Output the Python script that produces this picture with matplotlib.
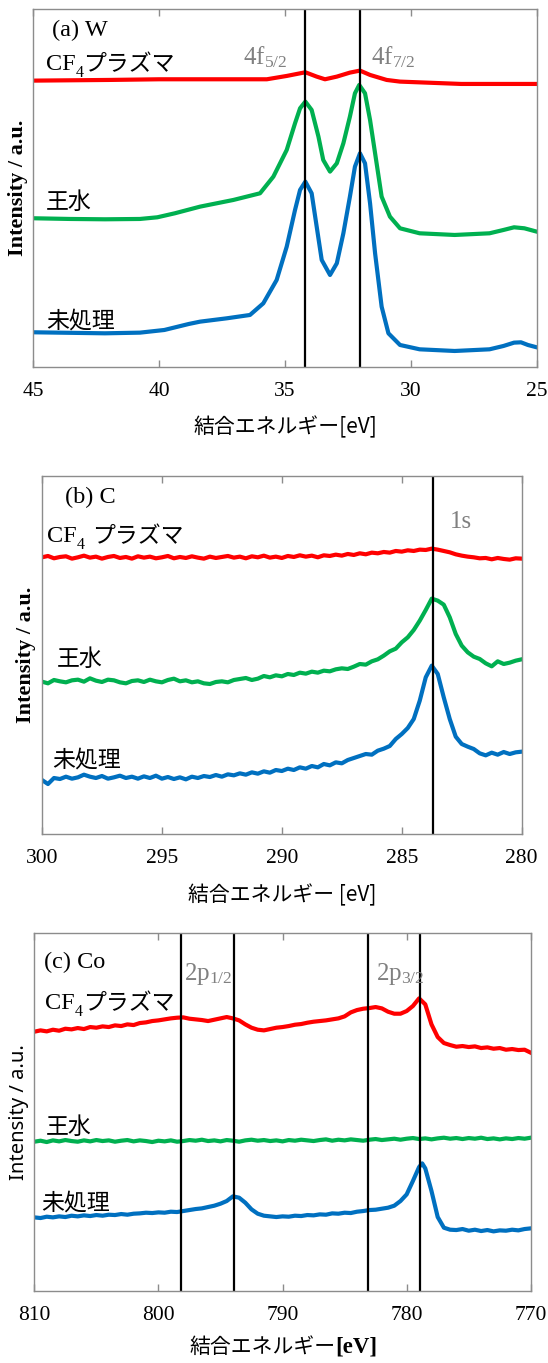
import matplotlib
matplotlib.use("Agg")
import matplotlib.pyplot as plt

plt.rcParams['font.family'] = ['Liberation Serif', 'Noto Sans CJK JP']
plt.rcParams['mathtext.fontset'] = 'custom'
plt.rcParams['mathtext.rm'] = 'Liberation Serif'
plt.rcParams['mathtext.it'] = 'Liberation Serif:italic'

SERIF = 'Liberation Serif'
JP = 'Noto Sans CJK JP'
SANS = 'Noto Sans'

RED = '#FF0000'
GREEN = '#00B050'
BLUE = '#0070C0'
GRAY = '#8C8C8C'
LABELGRAY = '#808080'

# ---------------- (a) W 4f ----------------
w_red_x = [44.93, 42.0, 40.0, 38.37, 35.72, 34.93, 34.19, 33.74, 33.41, 32.94, 32.42, 32.02, 31.62,
           30.96, 30.43, 28.0, 25.0]
w_red_y = [858, 860, 862, 862, 862, 872, 883, 870, 862, 870, 882, 888, 875,
           860, 855, 848, 848]

w_green_x = [44.93, 43.54, 42.15, 40.76, 40.07, 39.375, 38.37, 37.05, 35.99, 35.46, 34.93, 34.60,
             34.40, 34.19, 33.94, 33.67, 33.48, 33.21, 32.94, 32.68, 32.42, 32.22, 32.05, 31.82,
             31.62, 31.42, 31.16, 30.83, 30.43, 29.65, 28.26, 26.875, 26.32, 25.90, 25.49, 25.0]
w_green_y = [445, 443, 442, 443, 448, 460, 480, 500, 520, 570, 650, 730,
             775, 795, 770, 690, 620, 585, 610, 670, 750, 820, 845, 820,
             740, 640, 510, 450, 415, 400, 395, 400, 410, 418, 415, 405]

w_blue_x = [44.93, 42.15, 40.76, 39.79, 38.82, 38.37, 37.31, 36.39, 35.86, 35.33, 34.93, 34.60,
            34.40, 34.19, 33.94, 33.74, 33.54, 33.21, 32.94, 32.68, 32.42, 32.22, 32.02, 31.82,
            31.62, 31.42, 31.16, 30.89, 30.43, 29.65, 28.26, 26.875, 26.32, 25.90, 25.625, 25.35, 25.0]
w_blue_y = [103, 100, 102, 110, 128, 135, 145, 155, 190, 260, 360, 470,
            530, 555, 520, 420, 320, 275, 310, 400, 510, 600, 640, 610,
            490, 340, 180, 100, 65, 52, 47, 52, 62, 72, 73, 65, 58]

w_lines = [34.19, 32.01]
w_ticks = [45, 40, 35, 30, 25]

# ---------------- (b) C 1s ----------------
c_x = [300.00, 299.75, 299.50, 299.25, 299.00, 298.75, 298.50, 298.25, 298.00, 297.75, 297.50, 297.25,
       297.00, 296.75, 296.50, 296.25, 296.00, 295.75, 295.50, 295.25, 295.00, 294.75, 294.50, 294.25,
       294.00, 293.75, 293.50, 293.25, 293.00, 292.75, 292.50, 292.25, 292.00, 291.75, 291.50, 291.25,
       291.00, 290.75, 290.50, 290.25, 290.00, 289.75, 289.50, 289.25, 289.00, 288.75, 288.50, 288.25,
       288.00, 287.75, 287.50, 287.25, 287.00, 286.75, 286.50, 286.25, 286.00, 285.75, 285.50, 285.25,
       285.00, 284.75, 284.50, 284.25, 284.00, 283.75, 283.50, 283.25, 283.00, 282.75, 282.50, 282.25,
       282.00, 281.75, 281.50, 281.25, 281.00, 280.75, 280.50, 280.25, 280.00]
c_red_y = [830, 834, 827, 831, 833, 826, 830, 835, 829, 832, 826, 831,
           834, 828, 831, 826, 833, 829, 832, 827, 830, 834, 827, 831,
           828, 833, 829, 826, 832, 828, 831, 834, 829, 832, 827, 833,
           830, 835, 829, 832, 828, 834, 831, 836, 832, 835, 830, 836,
           834, 838, 835, 840, 837, 842, 839, 844, 842, 846, 844, 849,
           847, 851, 849, 853, 852, 856, 853, 849, 845, 839, 835, 832,
           830, 827, 828, 824, 828, 825, 823, 827, 826]
c_green_y = [457, 452, 462, 458, 455, 461, 463, 457, 467, 460, 456, 463,
             461, 455, 452, 459, 461, 456, 463, 458, 455, 462, 466, 458,
             461, 455, 458, 452, 450, 456, 458, 455, 462, 465, 468, 462,
             466, 474, 470, 476, 473, 480, 477, 484, 481, 487, 484, 490,
             488, 494, 497, 495, 502, 510, 508, 518, 524, 535, 548, 556,
             575, 590, 612, 640, 672, 706, 700, 688, 650, 600, 565, 545,
             532, 525, 512, 503, 518, 510, 514, 520, 524]
c_blue_y = [162, 150, 168, 165, 172, 166, 170, 178, 172, 168, 174, 166,
            170, 175, 168, 172, 166, 173, 168, 175, 166, 171, 165, 170,
            164, 172, 168, 174, 171, 177, 172, 179, 176, 182, 178, 185,
            181, 188, 184, 192, 189, 196, 192, 200, 196, 204, 200, 210,
            206, 215, 212, 222, 228, 234, 240, 238, 250, 256, 264, 285,
            300, 318, 345, 400, 470, 505, 480, 410, 345, 292, 270, 262,
            255, 242, 236, 244, 238, 246, 240, 245, 247]

c_lines = [283.7]
c_ticks = [300, 295, 290, 285, 280]

# ---------------- (c) Co 2p ----------------
co_x = [810.0, 809.5, 809.0, 808.5, 808.0, 807.5, 807.0, 806.5, 806.0, 805.5, 805.0, 804.5, 804.0,
        803.5, 803.0, 802.5, 802.0, 801.5, 801.0, 800.5, 800.0, 799.5, 799.0, 798.5, 798.0, 797.5,
        797.0, 796.5, 796.0, 795.5, 795.0, 794.5, 794.0, 793.5, 793.0, 792.5, 792.0, 791.5, 791.0,
        790.5, 790.0, 789.5, 789.0, 788.5, 788.0, 787.5, 787.0, 786.5, 786.0, 785.5, 785.0, 784.5,
        784.0, 783.5, 783.0, 782.5, 782.0, 781.5, 781.0, 780.5, 780.0, 779.5, 779.0, 778.5, 778.0,
        777.5, 777.0, 776.5, 776.0, 775.5, 775.0, 774.5, 774.0, 773.5, 773.0, 772.5, 772.0, 771.5,
        771.0, 770.5, 770.0]
co_red_y = [778, 782, 779, 784, 781, 787, 785, 789, 786, 792, 790, 794, 792,
            797, 795, 800, 798, 804, 806, 810, 812, 815, 818, 820, 821, 817,
            815, 813, 810, 814, 818, 822, 818, 812, 800, 790, 784, 782, 786,
            790, 792, 795, 799, 801, 805, 808, 810, 812, 815, 818, 824, 836,
            843, 847, 849, 852, 848, 838, 832, 832, 840, 855, 878, 860, 800,
            762, 744, 738, 733, 735, 732, 734, 729, 731, 727, 729, 724, 726,
            723, 724, 715]
co_green_y = [448, 451, 447, 452, 449, 453, 450, 448, 452, 449, 453, 450, 452,
              448, 451, 453, 449, 452, 450, 447, 451, 449, 452, 448, 450, 453,
              451, 454, 450, 452, 449, 453, 451, 448, 452, 454, 451, 453, 450,
              452, 449, 453, 451, 454, 452, 450, 453, 455, 451, 454, 452, 455,
              453, 451, 454, 456, 453, 455, 457, 454, 457, 459, 456, 458, 455,
              458, 460, 457, 459, 456, 459, 457, 460, 456, 458, 455, 458, 456,
              459, 457, 460]

co_blue_x = [810.0, 809.5, 809.0, 808.5, 808.0, 807.5, 807.0, 806.5, 806.0, 805.5, 805.0, 804.5, 804.0,
             803.5, 803.0, 802.5, 802.0, 801.5, 801.0, 800.5, 800.0, 799.5, 799.0, 798.5, 798.0, 797.5,
             797.0, 796.5, 796.0, 795.5, 795.0, 794.5, 794.0, 793.5, 793.0, 792.5, 792.0, 791.5, 791.0,
             790.5, 790.0, 789.5, 789.0, 788.5, 788.0, 787.5, 787.0, 786.5, 786.0, 785.5, 785.0, 784.5,
             784.0, 783.5, 783.0, 782.5, 782.0, 781.5, 781.0, 780.5, 780.0, 779.5, 779.0, 778.75, 778.5,
             778.0, 777.5, 777.0, 776.5, 776.0, 775.5, 775.0, 774.5, 774.0, 773.5, 773.0, 772.5, 772.0,
             771.5, 771.0, 770.5, 770.0]
co_blue_y = [221, 219, 223, 221, 224, 222, 226, 224, 227, 225, 228, 226, 229,
             228, 231, 229, 232, 233, 235, 234, 236, 235, 238, 237, 240, 243,
             246, 248, 252, 256, 262, 270, 284, 280, 265, 245, 232, 226, 224,
             222, 224, 223, 226, 225, 228, 227, 230, 229, 233, 232, 235, 234,
             238, 240, 243, 244, 247, 250, 256, 270, 290, 330, 372, 383, 368,
             300, 222, 190, 184, 183, 186, 181, 184, 180, 183, 179, 182, 181,
             184, 182, 186, 188]

co_lines = [798.2, 793.95, 783.1, 778.9]
co_ticks = [810, 800, 790, 780, 770]

sample_names = ["プラズマ", "王水", "未処理"]

fig = plt.figure(figsize=(5.48, 13.63), dpi=100)

ax_a = fig.add_axes([0.0606, 0.7310, 0.9188, 0.2622])
ax_b = fig.add_axes([0.0766, 0.3881, 0.8754, 0.2627])
ax_c = fig.add_axes([0.0626, 0.0528, 0.9060, 0.2624])


def style(ax, xlim, ticks, ylim):
    ax.set_xlim(*xlim)
    ax.set_ylim(*ylim)
    ax.set_xticks(ticks)
    ax.set_xticklabels([str(t) for t in ticks])
    for lab in ax.get_xticklabels():
        lab.set_fontfamily(SERIF)
        lab.set_fontsize(15.5)
    ax.set_yticks([])
    ax.tick_params(axis='x', direction='in', top=True, bottom=True, length=5, width=1,
                   color=GRAY, pad=11, labelsize=15.5)
    for s in ax.spines.values():
        s.set_color(GRAY)
        s.set_linewidth(1.0)


def cf4_label(ax, x, y, gap):
    t1 = ax.text(x, y, "CF", fontfamily=SERIF, fontsize=17.5, va='center', ha='left')
    t2 = ax.annotate("4", xy=(1, 0.1), xycoords=t1, fontfamily=SERIF, fontsize=11.5,
                     va='center', ha='left')
    ax.annotate(sample_names[0], xy=(1, 0.5), xycoords=(t2, t1), xytext=(gap, 0),
                textcoords='offset points', fontfamily=JP, fontsize=16.5, va='center', ha='left')


# ---- (a)
ax = ax_a
style(ax, (45, 25), w_ticks, (0, 1072))
ax.plot(w_red_x, w_red_y, color=RED, lw=3)
ax.plot(w_green_x, w_green_y, color=GREEN, lw=3)
ax.plot(w_blue_x, w_blue_y, color=BLUE, lw=3)
for v in w_lines:
    ax.axvline(v, color='black', lw=1.6)
ax.text(0.038, 0.942, "(a) W", transform=ax.transAxes, fontfamily=SERIF, fontsize=17.5,
        va='center', ha='left')
cf4_label(ax, 44.5, 905, 0)
ax.text(44.5, 493, sample_names[1], fontfamily=JP, fontsize=16.5, va='center', ha='left')
ax.text(44.5, 138, sample_names[2], fontfamily=JP, fontsize=16.5, va='center', ha='left')
ax.text(36.65, 928, r"4f$_{\mathrm{5/2}}$", fontfamily=SERIF, fontsize=18, color=LABELGRAY,
        va='center', ha='left')
ax.text(31.6, 928, r"4f$_{\mathrm{7/2}}$", fontfamily=SERIF, fontsize=18, color=LABELGRAY,
        va='center', ha='left')
ax.set_xlabel("結合エネルギー[eV]", fontfamily=JP, fontsize=15)
ax.xaxis.label.set_va('center')
ax.xaxis.set_label_coords(0.5, -0.168)
ax.set_ylabel("Intensity / a.u.", fontfamily=SERIF, fontweight='bold', fontsize=16)
ax.yaxis.label.set_va('center')
ax.yaxis.set_label_coords(-0.031, 0.5)

# ---- (b)
ax = ax_b
style(ax, (300, 280), c_ticks, (0, 1074))
ax.plot(c_x, c_red_y, color=RED, lw=3)
ax.plot(c_x, c_green_y, color=GREEN, lw=3)
ax.plot(c_x, c_blue_y, color=BLUE, lw=3)
for v in c_lines:
    ax.axvline(v, color='black', lw=1.6)
ax.text(0.048, 0.941, "(b) C", transform=ax.transAxes, fontfamily=SERIF, fontsize=17.5,
        va='center', ha='left')
cf4_label(ax, 299.78, 892, 5)
ax.text(299.4, 524, sample_names[1], fontfamily=JP, fontsize=16.5, va='center', ha='left')
ax.text(299.56, 222, sample_names[2], fontfamily=JP, fontsize=16.5, va='center', ha='left')
ax.text(283.0, 937, "1s", fontfamily=SERIF, fontsize=18, color=LABELGRAY, va='center', ha='left')
ax.set_xlabel("結合エネルギー [eV]", fontfamily=JP, fontsize=15)
ax.xaxis.label.set_va('center')
ax.xaxis.set_label_coords(0.5, -0.170)
ax.set_ylabel("Intensity / a.u.", fontfamily=SERIF, fontweight='bold', fontsize=16)
ax.yaxis.label.set_va('center')
ax.yaxis.set_label_coords(-0.033, 0.5)

# ---- (c)
ax = ax_c
style(ax, (810, 770), co_ticks, (0, 1073))
ax.plot(co_x, co_red_y, color=RED, lw=3)
ax.plot(co_x, co_green_y, color=GREEN, lw=3)
ax.plot(co_blue_x, co_blue_y, color=BLUE, lw=3)
for v in co_lines:
    ax.axvline(v, color='black', lw=1.6)
ax.text(0.020, 0.920, "(c) Co", transform=ax.transAxes, fontfamily=SERIF, fontsize=17.5,
        va='center', ha='left')
cf4_label(ax, 809.1, 863, 0)
ax.text(809.1, 490, sample_names[1], fontfamily=JP, fontsize=16.5, va='center', ha='left')
ax.text(809.44, 263, sample_names[2], fontfamily=JP, fontsize=16.5, va='center', ha='left')
ax.text(797.97, 951, r"2p$_{\mathrm{1/2}}$", fontfamily=SERIF, fontsize=18, color=LABELGRAY,
        va='center', ha='left')
ax.text(782.48, 951, r"2p$_{\mathrm{3/2}}$", fontfamily=SERIF, fontsize=18, color=LABELGRAY,
        va='center', ha='left')
xl = ax.text(0.607, -0.157, "結合エネルギー", transform=ax.transAxes, fontfamily=JP, fontsize=15,
             va='center', ha='right')
ax.annotate("[eV]", xy=(1, 0.5), xycoords=xl, fontfamily=SERIF, fontweight='bold', fontsize=16.5,
            va='center', ha='left')
ax.set_ylabel("Intensity / a.u.", fontfamily=SANS, fontsize=14.5)
ax.yaxis.label.set_va('center')
ax.yaxis.set_label_coords(-0.030, 0.5)

fig.savefig("out.png", dpi=100)
